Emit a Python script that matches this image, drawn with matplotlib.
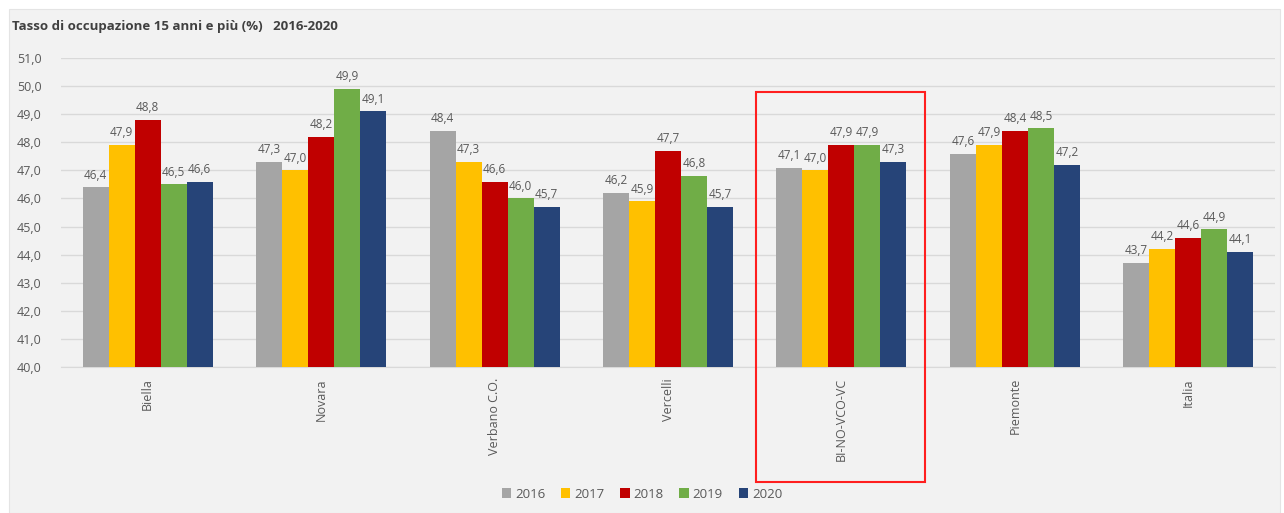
import matplotlib
matplotlib.use("Agg")
import matplotlib.pyplot as plt
from matplotlib.patches import Rectangle
import numpy as np

plt.rcParams['font.family'] = ['Open Sans', 'DejaVu Sans']

categories = ["Biella", "Novara", "Verbano C.O.", "Vercelli", "BI-NO-VCO-VC", "Piemonte", "Italia"]
years = ["2016", "2017", "2018", "2019", "2020"]
v2016 = [46.4, 47.3, 48.4, 46.2, 47.1, 47.6, 43.7]
v2017 = [47.9, 47.0, 47.3, 45.9, 47.0, 47.9, 44.2]
v2018 = [48.8, 48.2, 46.6, 47.7, 47.9, 48.4, 44.6]
v2019 = [46.5, 49.9, 46.0, 46.8, 47.9, 48.5, 44.9]
v2020 = [46.6, 49.1, 45.7, 45.7, 47.3, 47.2, 44.1]
series = [v2016, v2017, v2018, v2019, v2020]
colors = ["#a5a5a5", "#ffc000", "#c00000", "#70ad47", "#264478"]
title = "Tasso di occupazione 15 anni e più (%)   2016-2020"

W, H = 1284, 513
fig = plt.figure(figsize=(W / 100, H / 100), dpi=100)
fig.patch.set_facecolor("white")
fig.patches.append(Rectangle((9 / W, 0), (W - 13) / W, (H - 9) / H, transform=fig.transFigure,
                             facecolor="#f2f2f2", edgecolor="#e4e4e4", lw=0.8, zorder=-10))

ax = fig.add_axes([61 / W, 1 - 367 / H, (1275 - 61) / W, (367 - 58) / H])
ax.set_facecolor("none")
ax.set_zorder(1)

x = np.arange(len(categories))
bw = 0.15
for i, (vals, c, yr) in enumerate(zip(series, colors, years)):
    pos = x + (i - 2) * bw
    ax.bar(pos, np.array(vals) - 40, bottom=40, width=bw, color=c, label=yr, zorder=3)
    for p, v in zip(pos, vals):
        ax.text(p, v + 0.2, f"{v:.1f}".replace(".", ","), ha="center", va="bottom",
                fontsize=8.5, color="#595959", zorder=4)

ax.set_ylim(40, 51)
ax.set_xlim(-0.5, len(categories) - 0.5)
ax.set_yticks(np.arange(40, 52, 1))
ax.set_yticklabels([f"{t:.1f}".replace(".", ",") for t in np.arange(40, 52, 1)])
ax.set_xticks(x)
ax.set_xticklabels(categories, rotation=90)
ax.tick_params(axis="both", length=0, colors="#595959", labelsize=9)
ax.tick_params(axis="x", pad=8)
ax.tick_params(axis="y", pad=14)
ax.grid(axis="y", color="#d9d9d9", lw=1, zorder=0)
for s in ["top", "right", "left"]:
    ax.spines[s].set_visible(False)
ax.spines["bottom"].set_color("#d9d9d9")

ax.add_patch(Rectangle((3.51, 35.9), 0.97, 49.79 - 35.9, fill=False, edgecolor="#ff1f1f",
                       lw=1.5, clip_on=False, zorder=5))

fig.text(12 / W, 1 - 27 / H, title, fontsize=9.5, fontweight="bold", color="#404040",
         va="center", ha="left")

leg = fig.legend(loc="center", bbox_to_anchor=(642 / W, 1 - 494 / H), ncol=5, frameon=False,
                 fontsize=9.5, handlelength=0.7, handleheight=0.7, handletextpad=0.3, columnspacing=1.2)
for t in leg.get_texts():
    t.set_color("#595959")

fig.savefig("out.png", dpi=100, facecolor=fig.get_facecolor())
